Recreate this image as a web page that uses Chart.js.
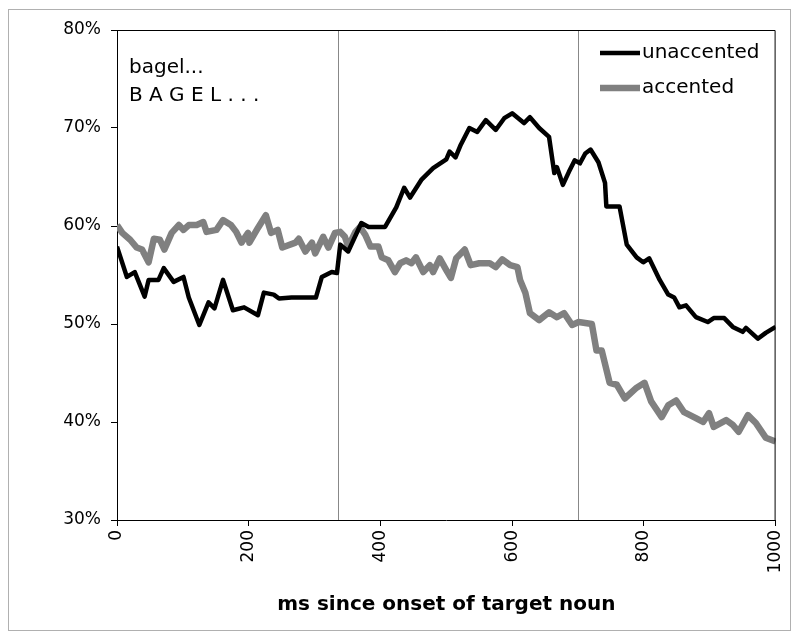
<!DOCTYPE html>
<html>
<head>
<meta charset="utf-8">
<script src="https://cdn.jsdelivr.net/npm/chart.js"></script>
<style>
  body { margin: 0; background: #fff; }
  #wrap { width: 800px; height: 639px; }
</style>
</head>
<body>
<div id="wrap"><canvas id="chart" width="800" height="639"></canvas></div>
<script>
// values (ms since onset, % looks)
const msUnaccented = [0, 15, 27, 42, 48, 63, 71, 86, 101, 109, 125, 139, 148, 161, 176, 193, 214, 223, 238, 246,
  265, 302, 311, 326, 334, 339, 351, 371, 382, 407, 424, 436, 445, 462, 480, 500, 505, 514, 522, 535,
  547, 560, 575, 588, 600, 618, 627, 641, 656, 664, 668, 677, 686, 695, 703, 711, 719, 731, 741, 743,
  763, 774, 789, 799, 808, 824, 837, 846, 854, 864, 879, 897, 906, 922, 935, 950, 955, 973, 985, 1000];
const pctUnaccented = [57.9, 54.8, 55.3, 52.8, 54.5, 54.5, 55.7, 54.3, 54.8, 52.7, 49.9, 52.2, 51.6, 54.5, 51.4, 51.7, 50.9, 53.2, 53.0, 52.6,
  52.7, 52.7, 54.8, 55.3, 55.2, 58.1, 57.4, 60.3, 59.9, 59.9, 61.9, 63.9, 62.9, 64.7, 65.9, 66.8, 67.6, 67.0, 68.3, 70.0,
  69.6, 70.8, 69.8, 71.0, 71.5, 70.5, 71.1, 70.0, 69.1, 65.4, 66.0, 64.2, 65.5, 66.7, 66.4, 67.4, 67.8, 66.5, 64.4, 62.0,
  62.0, 58.1, 56.8, 56.3, 56.7, 54.5, 53.0, 52.7, 51.7, 51.9, 50.7, 50.2, 50.6, 50.6, 49.7, 49.2, 49.6, 48.5, 49.1, 49.7];

const msAccented = [0, 8, 20, 30, 38, 48, 56, 65, 72, 83, 94, 101, 109, 121, 131, 136, 151, 161, 173, 181,
  189, 199, 201, 214, 226, 234, 244, 251, 271, 276, 286, 296, 301, 313, 321, 331, 339, 346, 351, 362,
  369, 377, 385, 397, 402, 412, 422, 430, 439, 447, 454, 465, 475, 480, 490, 500, 507, 515, 528, 537,
  550, 566, 575, 585, 597, 608, 612, 620, 627, 641, 656, 668, 679, 691, 701, 711, 721, 728, 736, 748,
  759, 771, 789, 801, 811, 827, 837, 849, 861, 879, 890, 899, 906, 925, 935, 944, 958, 970, 985, 1000];
const pctAccented = [60.1, 59.3, 58.6, 57.8, 57.6, 56.3, 58.7, 58.6, 57.6, 59.3, 60.1, 59.6, 60.1, 60.1, 60.4, 59.4, 59.6, 60.6, 60.1, 59.4,
  58.3, 59.3, 58.3, 59.8, 61.1, 59.3, 59.6, 57.8, 58.3, 58.7, 57.4, 58.3, 57.2, 58.9, 57.8, 59.3, 59.4, 58.9, 57.9, 59.4,
  59.9, 59.1, 57.9, 57.9, 56.8, 56.5, 55.3, 56.2, 56.5, 56.2, 56.8, 55.3, 56.0, 55.3, 56.7, 55.5, 54.7, 56.7, 57.6, 56.0,
  56.2, 56.2, 55.8, 56.6, 56.0, 55.8, 54.5, 53.2, 51.1, 50.4, 51.2, 50.7, 51.1, 49.9, 50.2, 50.1, 50.0, 47.3, 47.3, 44.0,
  43.8, 42.4, 43.5, 44.0, 42.1, 40.5, 41.7, 42.2, 41.0, 40.4, 40.0, 40.9, 39.5, 40.2, 39.7, 39.0, 40.7, 39.9, 38.4, 38.0];

const markerLines = [335, 700];   // ms of the two vertical lines
const seriesNames = ['unaccented', 'accented'];
const noteLines = ['bagel...', 'B A G E L . . .'];

const FONT = 'DejaVu Sans, Verdana, sans-serif';

function toPoints(xs, ys) {
  return xs.map((x, i) => ({ x: x, y: ys[i] }));
}

const extras = {
  id: 'extras',
  beforeDraw(chart) {
    const ctx = chart.ctx;
    ctx.save();
    ctx.fillStyle = '#fff';
    ctx.fillRect(0, 0, chart.width, chart.height);
    ctx.strokeStyle = '#b0b0b0';
    ctx.lineWidth = 1;
    ctx.strokeRect(8.5, 9.5, 782, 621);
    ctx.restore();
  },
  beforeDatasetsDraw(chart) {
    const ctx = chart.ctx, a = chart.chartArea, xs = chart.scales.x;
    ctx.save();
    ctx.strokeStyle = '#888';
    ctx.lineWidth = 1;
    markerLines.forEach(m => {
      const px = Math.round(xs.getPixelForValue(m)) + 0.5;
      ctx.beginPath();
      ctx.moveTo(px, a.top);
      ctx.lineTo(px, a.bottom);
      ctx.stroke();
    });
    ctx.restore();
  },
  afterDraw(chart) {
    const ctx = chart.ctx, a = chart.chartArea;
    ctx.save();
    // frame top/right
    ctx.strokeStyle = '#000';
    ctx.lineWidth = 1;
    ctx.beginPath();
    ctx.moveTo(a.left, a.top + 0.5);
    ctx.lineTo(a.right - 0.5, a.top + 0.5);
    ctx.lineTo(a.right - 0.5, a.bottom);
    ctx.stroke();

    // legend
    const ds = chart.data.datasets;
    const ly = [53, 88];
    ds.forEach((d, i) => {
      ctx.strokeStyle = d.borderColor;
      ctx.lineWidth = d.borderWidth;
      ctx.beginPath();
      ctx.moveTo(600, ly[i]);
      ctx.lineTo(640, ly[i]);
      ctx.stroke();
      ctx.fillStyle = '#000';
      ctx.font = '20px ' + FONT;
      ctx.textBaseline = 'middle';
      ctx.fillText(d.label, 642, ly[i]);
    });

    // note text
    ctx.fillStyle = '#000';
    ctx.font = '20px ' + FONT;
    ctx.textBaseline = 'middle';
    ctx.fillText(noteLines[0], 129, 68);
    ctx.fillText(noteLines[1], 129, 96);
    ctx.restore();
  }
};

new Chart(document.getElementById('chart'), {
  type: 'line',
  data: {
    datasets: [
      {
        label: seriesNames[0],
        data: toPoints(msUnaccented, pctUnaccented),
        borderColor: '#000000',
        borderWidth: 4.5,
        pointRadius: 0,
        tension: 0,
        borderJoinStyle: 'round'
      },
      {
        label: seriesNames[1],
        data: toPoints(msAccented, pctAccented),
        borderColor: '#808080',
        borderWidth: 6.5,
        pointRadius: 0,
        tension: 0,
        borderJoinStyle: 'round'
      }
    ]
  },
  options: {
    responsive: false,
    animation: false,
    layout: { padding: { left: 0, top: 30, right: 21, bottom: 0 } },
    plugins: {
      legend: { display: false },
      tooltip: { enabled: false }
    },
    scales: {
      x: {
        type: 'linear',
        min: 0,
        max: 1000,
        afterFit(scale) { scale.height = 119; },
        ticks: {
          stepSize: 200,
          minRotation: 90,
          maxRotation: 90,
          padding: 4,
          color: '#000',
          font: { family: FONT, size: 17 },
          callback: v => String(v)
        },
        grid: { drawOnChartArea: false, drawTicks: true, tickLength: 6, color: '#000' },
        border: { color: '#000', width: 1 },
        title: {
          display: true,
          text: 'ms since onset of target noun',
          color: '#000',
          font: { family: FONT, size: 20, weight: 'bold' },
          padding: { top: 0, bottom: 22 }
        }
      },
      y: {
        min: 30,
        max: 80,
        afterFit(scale) { scale.width = 117; },
        ticks: {
          stepSize: 10,
          padding: 10,
          color: '#000',
          font: { family: FONT, size: 17 },
          callback: v => v + '%'
        },
        grid: { drawOnChartArea: false, drawTicks: true, tickLength: 6, color: '#000' },
        border: { color: '#000', width: 1 }
      }
    }
  },
  plugins: [extras]
});
</script>
</body>
</html>
